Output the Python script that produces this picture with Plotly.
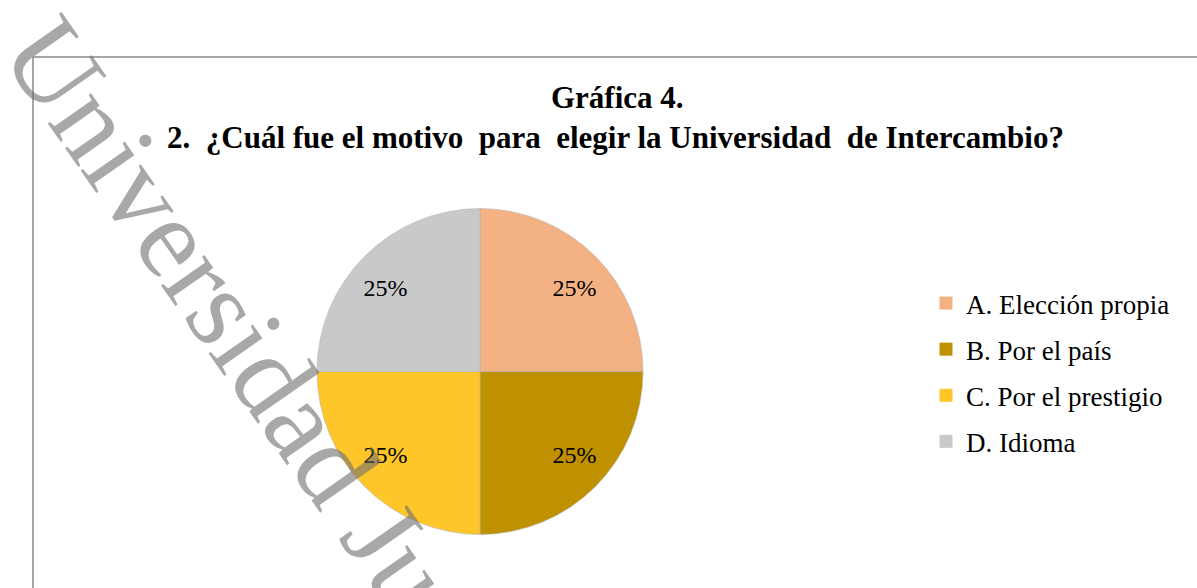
import plotly.graph_objects as go

labels = ["A. Elección propia", "B. Por el país", "C. Por el prestigio", "D. Idioma"]
values = [25, 25, 25, 25]
colors = ["#F4B183", "#BF9000", "#FFC629", "#C9C9C9"]

title_line1 = "Gráfica 4."
title_line2 = "2.\u00a0\u00a0¿Cuál fue el motivo\u00a0 para\u00a0 elegir la Universidad\u00a0 de Intercambio?"
watermark = "Universidad Juárez"

W, H = 1197, 588
serif = "'Liberation Serif', 'Times New Roman', Times, serif"

pad = "\u00a0" * 9
text_templates = [pad + "%{percent}<br>\u00a0",
                  "\u00a0<br>" + pad + "%{percent}",
                  "\u00a0<br>%{percent}" + pad,
                  "%{percent}" + pad + "<br>\u00a0"]

fig = go.Figure()
fig.add_trace(go.Pie(
    labels=labels, values=values, sort=False, direction="clockwise", rotation=0,
    marker=dict(colors=colors, line=dict(color="rgba(180,180,180,0.6)", width=1)),
    texttemplate=text_templates, textposition="inside", insidetextorientation="horizontal",
    textfont=dict(family=serif, size=24, color="black"),
    domain=dict(x=[317 / W, 643 / W], y=[(H - 535) / H, (H - 208) / H]),
    showlegend=False, hoverinfo="label+percent",
))
for lab, col in zip(labels, colors):
    fig.add_trace(go.Scatter(
        x=[None], y=[None], mode="markers", name=lab, legendgroup=lab,
        marker=dict(symbol="square", size=13, color=col),
    ))

fig.update_layout(
    width=W, height=H, margin=dict(l=0, r=0, t=0, b=0),
    paper_bgcolor="white", plot_bgcolor="white",
    xaxis=dict(visible=False), yaxis=dict(visible=False),
    legend=dict(x=926 / W, y=(H - 279) / H, xanchor="left", yanchor="top",
                font=dict(family=serif, size=27, color="black"),
                tracegroupgap=8, itemwidth=30, bgcolor="rgba(0,0,0,0)"),
    shapes=[
        dict(type="line", xref="paper", yref="paper", x0=33 / W, x1=1.0,
             y0=(H - 57) / H, y1=(H - 57) / H, line=dict(color="#A6A6A6", width=2)),
        dict(type="line", xref="paper", yref="paper", x0=33 / W, x1=33 / W,
             y0=(H - 57) / H, y1=0, line=dict(color="#A6A6A6", width=2)),
    ],
    annotations=[
        dict(text="<b>" + title_line1 + "</b>", x=617 / W, y=(H - 98) / H, xref="paper", yref="paper",
             xanchor="center", yanchor="middle",
             showarrow=False, font=dict(family=serif, size=31, color="black")),
        dict(text="<b>" + title_line2 + "</b>", x=615 / W, y=(H - 137) / H, xref="paper", yref="paper",
             xanchor="center", yanchor="middle",
             showarrow=False, font=dict(family=serif, size=31, color="black")),
        dict(text=watermark, x=284 / W, y=(H - 393) / H, xref="paper", yref="paper",
             xanchor="center", yanchor="middle",
             showarrow=False, textangle=55,
             font=dict(family=serif, size=115, color="rgba(110,110,110,0.6)")),
    ],
)
fig.write_html("out.html", config={"displayModeBar": False},
               post_script="document.body.style.margin='0';document.body.style.padding='0';")
